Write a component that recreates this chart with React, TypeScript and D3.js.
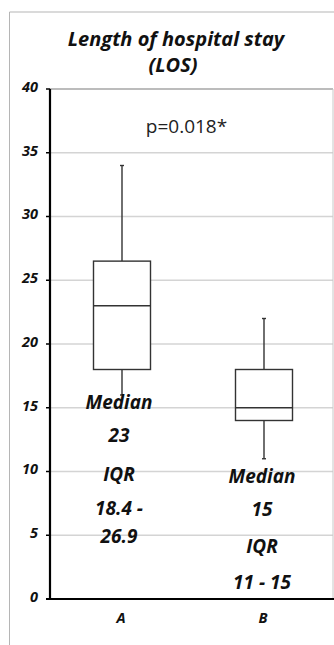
import React from "react";
import { scaleLinear, scaleBand } from "d3";

const categories = ["A", "B"];
const whiskerLow = [16, 11];
const q1 = [18, 14];
const median = [23, 15];
const q3 = [26.5, 18];
const whiskerHigh = [34, 22];
const yTicks = [0, 5, 10, 15, 20, 25, 30, 35, 40];
const notesA = ["Median", "23", "IQR", "18.4 -", "26.9"];
const notesB = ["Median", "15", "IQR", "11 - 15"];

const W = 334;
const H = 645;
const margin = { top: 89, right: 1, bottom: 46, left: 50 };

export default function App() {
  const y = scaleLinear().domain([0, 40]).range([H - margin.bottom, margin.top]);
  const x = scaleBand().domain(categories).range([51, 335]);
  const bw = 57;
  const font = "'Open Sans', sans-serif";
  const center = (c: string) => (x(c) as number) + x.bandwidth() / 2;

  // baselines of the annotation lines
  const baseA = [409, 442, 481, 515, 543];
  const baseB = [483, 516, 553, 589];

  return (
    <svg
      width={W}
      height={H}
      style={{ position: "absolute", left: 0, top: 0, background: "#fff" }}
      fontFamily={font}
    >
      {/* outer frame */}
      <line x1={9.5} y1={12} x2={9.5} y2={H} stroke="#b5b5b5" />
      <line x1={9.5} y1={12} x2={W} y2={12} stroke="#b5b5b5" />

      {/* title */}
      <text x={176} y={46} textAnchor="middle" fontSize={20} fontWeight="bold" fontStyle="italic" fill="#111">
        Length of hospital stay
      </text>
      <text x={173} y={72} textAnchor="middle" fontSize={20} fontWeight="bold" fontStyle="italic" fill="#111">
        (LOS)
      </text>

      {/* grid */}
      {yTicks.filter((t) => t > 0).map((t) => (
        <line
          key={t}
          x1={margin.left}
          x2={W - margin.right}
          y1={y(t)}
          y2={y(t)}
          stroke={t === 40 ? "#a6a6a6" : "#d4d4d4"}
          strokeWidth={1.5}
        />
      ))}
      <line x1={W - 1} x2={W - 1} y1={y(40)} y2={y(0)} stroke="#c8c8c8" />

      {/* y axis */}
      <line x1={margin.left} x2={margin.left} y1={y(40)} y2={y(0)} stroke="#000" strokeWidth={2.2} />
      {yTicks.map((t) => (
        <g key={t}>
          <line x1={margin.left - 4} x2={margin.left} y1={y(t)} y2={y(t)} stroke="#000" strokeWidth={1.5} />
          <text
            x={38}
            y={y(t)}
            dy="0.2em"
            textAnchor="end"
            fontSize={14.5}
            fontWeight="bold"
            fontStyle="italic"
            fill="#111"
          >
            {t}
          </text>
        </g>
      ))}

      {/* x axis */}
      <line x1={margin.left - 4} x2={W} y1={y(0)} y2={y(0)} stroke="#000" strokeWidth={2.2} />
      {categories.map((c) => (
        <text
          key={c}
          x={center(c) - 1}
          y={y(0) + 24}
          textAnchor="middle"
          fontSize={14.5}
          fontWeight="bold"
          fontStyle="italic"
          fill="#111"
        >
          {c}
        </text>
      ))}

      {/* boxes */}
      {categories.map((c, i) => {
        const cx = center(c);
        return (
          <g key={c} stroke="#333" fill="none" strokeWidth={1.4}>
            <line x1={cx} x2={cx} y1={y(whiskerHigh[i])} y2={y(q3[i])} />
            <line x1={cx} x2={cx} y1={y(q1[i])} y2={y(whiskerLow[i])} />
            <line x1={cx - 2} x2={cx + 2} y1={y(whiskerHigh[i])} y2={y(whiskerHigh[i])} />
            <line x1={cx - 2} x2={cx + 2} y1={y(whiskerLow[i])} y2={y(whiskerLow[i])} />
            <rect x={cx - bw / 2} y={y(q3[i])} width={bw} height={y(q1[i]) - y(q3[i])} fill="#fff" />
            <line x1={cx - bw / 2} x2={cx + bw / 2} y1={y(median[i])} y2={y(median[i])} />
          </g>
        );
      })}

      {/* p value */}
      <text x={186.5} y={133} textAnchor="middle" fontSize={19} fill="#222">
        p=0.018*
      </text>

      {/* annotations */}
      {notesA.map((s, i) => (
        <text
          key={"a" + i}
          x={center("A") - 3}
          y={baseA[i]}
          textAnchor="middle"
          fontSize={19}
          fontWeight="bold"
          fontStyle="italic"
          fill="#111"
        >
          {s}
        </text>
      ))}
      {notesB.map((s, i) => (
        <text
          key={"b" + i}
          x={center("B") - 2}
          y={baseB[i]}
          textAnchor="middle"
          fontSize={19}
          fontWeight="bold"
          fontStyle="italic"
          fill="#111"
        >
          {s}
        </text>
      ))}
    </svg>
  );
}
